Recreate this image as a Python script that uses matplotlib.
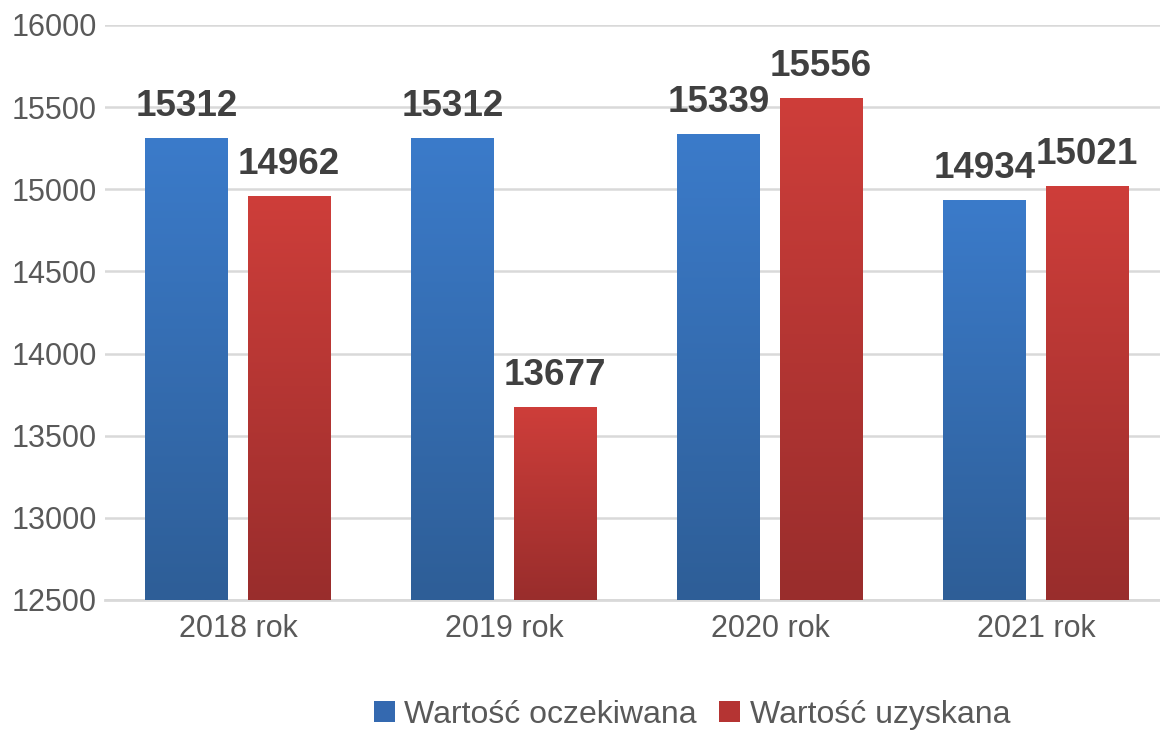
import matplotlib
matplotlib.use("Agg")
import matplotlib.pyplot as plt
import numpy as np
from matplotlib.colors import LinearSegmentedColormap
from matplotlib.patches import Patch

years = ['2018 rok', '2019 rok', '2020 rok', '2021 rok']
expected = [15312, 15312, 15339, 14934]
obtained = [14962, 13677, 15556, 15021]
series_names = ['Wartość oczekiwana', 'Wartość uzyskana']

plt.rcParams['font.family'] = ['Liberation Sans', 'DejaVu Sans']

blue_top, blue_bot = '#3b7bca', '#2e5e97'
red_top, red_bot = '#ce3e3a', '#992d2c'

fig = plt.figure(figsize=(11.6, 7.3), dpi=100)
ax = fig.add_axes([105/1160, 130/730, 1064/1160, 575/730])

x = np.arange(len(years))
w = 0.312
off = 0.192
ymin = 12500

bars_b = ax.bar(x - off, np.array(expected) - ymin, w, bottom=ymin, color=blue_top, zorder=3)
bars_r = ax.bar(x + off, np.array(obtained) - ymin, w, bottom=ymin, color=red_top, zorder=3)

# vertical gradient inside every bar
grad = np.linspace(0, 1, 256).reshape(-1, 1)
for bars, top, bot in [(bars_b, blue_top, blue_bot), (bars_r, red_top, red_bot)]:
    cmap = LinearSegmentedColormap.from_list('g', [bot, top])
    for b in bars:
        x0, y0 = b.get_x(), b.get_y()
        x1, y1 = x0 + b.get_width(), y0 + b.get_height()
        b.set_facecolor('none')
        im = ax.imshow(grad, cmap=cmap, aspect='auto', origin='lower',
                       extent=[x0, x1, y0, y1], zorder=3)
        im.set_clip_path(b)

for bars, vals in [(bars_b, expected), (bars_r, obtained)]:
    for b, v in zip(bars, vals):
        ax.annotate(str(v), (b.get_x() + b.get_width() / 2, v),
                    xytext=(0, 10), textcoords='offset points',
                    ha='center', va='bottom', fontsize=26.5,
                    fontweight='bold', color='#404040', zorder=5)

ax.set_xlim(-0.5, 3.5)
ax.set_ylim(12500, 16000)
ax.set_yticks(np.arange(12500, 16001, 500))
ax.set_xticks(x)
ax.set_xticklabels(years)
ax.tick_params(axis='both', length=0, labelsize=22, labelcolor='#595959')
ax.tick_params(axis='y', pad=6)
ax.tick_params(axis='x', pad=10)
ax.grid(axis='y', color='#d9d9d9', linewidth=1.8, zorder=0)
for s in ['top', 'right', 'left']:
    ax.spines[s].set_visible(False)
ax.spines['bottom'].set_color('#d9d9d9')
ax.spines['bottom'].set_linewidth(2)
ax.set_facecolor('white')

handles = [Patch(facecolor='#3469b0', label=series_names[0]),
           Patch(facecolor='#b53433', label=series_names[1])]
fig.legend(handles=handles, loc='center', bbox_to_anchor=(692/1160, 1 - 715/730),
           ncol=2, frameon=False, fontsize=23, labelcolor='#595959',
           handlelength=0.65, handleheight=0.65, handletextpad=0.3,
           columnspacing=0.7)

fig.savefig('out.png', dpi=100)
